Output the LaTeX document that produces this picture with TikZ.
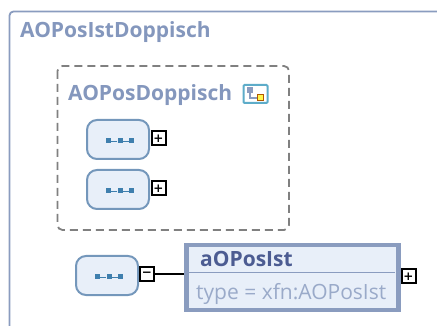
\documentclass[tikz,border=0pt]{standalone}
\usepackage{fontspec}
\setmainfont{Open Sans}
\newfontfamily\togglefont{DejaVu Sans}
\usetikzlibrary{positioning}
\definecolor{frameblue}{HTML}{8A9CBF}
\definecolor{titleblue}{HTML}{8497BD}
\definecolor{namedark}{HTML}{4C5C92}
\definecolor{typegrey}{HTML}{9AAAC9}
\definecolor{paleblue}{HTML}{E8EFF9}
\definecolor{seqedge}{HTML}{7497BB}
\definecolor{dotblue}{HTML}{3F7FAE}
\begin{document}
\begin{tikzpicture}
[x=1pt, y=-1pt, frame line/.style={frameblue, line width=1.8pt, rounded corners=4pt}, group line/.style={dashed, dash pattern=on 8pt off 5pt, line width=1.8pt, color=black!50, rounded corners=5pt}, seqbox/.style={draw=seqedge, fill=paleblue, line width=2pt, rounded corners=10pt, minimum width=62pt, minimum height=39pt, inner sep=0pt}, seqdot/.style={fill=dotblue, minimum size=5pt, inner sep=0pt}, togglebox/.style={draw=black, fill=white, line width=2pt, minimum size=14pt, inner sep=0pt, font=\togglefont\fontsize{12}{12}\selectfont\bfseries}, elembox/.style={draw=frameblue, fill=paleblue, line width=4.5pt, minimum width=212pt, minimum height=65pt, inner sep=0pt}, title text/.style={anchor=base west, inner sep=0pt, text=titleblue, font=\fontsize{21}{21}\selectfont\bfseries}]
    \useasboundingbox (0,0) rectangle (437,326);
    \draw[frame line] (9.5,326) -- (9.5,11.5) -- (437,11.5);
    \node (title) [title text] at (20,38) {AOPosIstDoppisch};
    \draw[group line] (57.5,66) rectangle (289,230);
    \node (group) [title text] at (68,101) {AOPosDoppisch};
    % group icon
    \node (icon) [draw=seqedge!80!cyan, fill=white, line width=2pt, rounded corners=1pt, minimum width=24pt, minimum height=18pt, inner sep=0pt] at (255.5,94) {};
    \node (iconA) [fill=frameblue, minimum size=6pt, inner sep=0pt] at (250,90) {};
    \node (iconB) [draw=orange!70!black, fill=yellow!70!white, line width=1pt, minimum size=6pt, inner sep=0pt] at (260,98) {};
    \draw[frameblue, line width=1.5pt] (iconA) |- (iconB);
    % sequence boxes
    \foreach \name/\cx/\cy in {seqA/118/139.5, seqB/118/189.5, seqC/107/275.5} {
        \node (\name) [seqbox] at (\cx,\cy) {};
        \node (\name dotL) [seqdot] at (\cx-9.5,\cy+1.5) {};
        \node (\name dotM) [seqdot] at (\cx+2,\cy+1.5) {};
        \node (\name dotR) [seqdot] at (\cx+13.5,\cy+1.5) {};
        \draw[dotblue, line width=0.7pt] (\name dotL) -- (\name dotM) -- (\name dotR);
    }
    \node (plusA) [togglebox] at (158.5,138.5) {+};
    \node (plusB) [togglebox] at (158.5,188.5) {+};
    \node (minusC) [togglebox] at (147,274.5) {−};
    % element
    \node (aOPosIst) [elembox] at (292.5,277.5) {};
    \draw[frameblue, line width=1.6pt] (187,272.5) -- (395,272.5);
    \node (elemname) [title text, text=namedark] at (200,266) {aOPosIst};
    \node (elemtype) [title text, text=typegrey, font=\fontsize{21}{21}\selectfont] at (196,300) {type = xfn:AOPosIst};
    \node (plusE) [togglebox] at (408.5,276.5) {+};
    \draw[black, line width=2pt] (minusC) -- (minusC -| aOPosIst.west);
\end{tikzpicture}
\end{document}
